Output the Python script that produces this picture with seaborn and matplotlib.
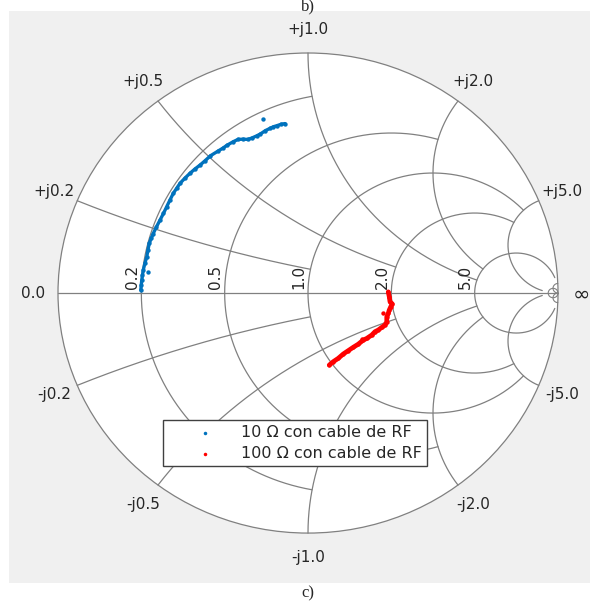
import numpy as np
import matplotlib
matplotlib.use("Agg")
import matplotlib.pyplot as plt
import seaborn as sns

blue_re = [-0.669, -0.667, -0.665, -0.662, -0.659, -0.652, -0.645, -0.640, -0.635, -0.627,
           -0.619, -0.606, -0.592, -0.578, -0.565, -0.552, -0.539, -0.525, -0.512, -0.492,
           -0.472, -0.452, -0.432, -0.412, -0.390, -0.359, -0.340, -0.325, -0.300, -0.280,
           -0.260, -0.240, -0.222, -0.205, -0.190, -0.170, -0.152, -0.138, -0.125, -0.108, -0.092]
blue_im = [0.012, 0.033, 0.054, 0.075, 0.096, 0.125, 0.151, 0.180, 0.207, 0.228,
           0.248, 0.276, 0.304, 0.332, 0.360, 0.388, 0.415, 0.437, 0.457, 0.479,
           0.499, 0.517, 0.533, 0.551, 0.572, 0.592, 0.604, 0.615, 0.630, 0.640,
           0.641, 0.640, 0.647, 0.655, 0.663, 0.677, 0.686, 0.693, 0.697, 0.703, 0.706]
blue_stray_re = [-0.641, -0.181]
blue_stray_im = [0.089, 0.725]

red_re = [0.321, 0.325, 0.328, 0.337, 0.331, 0.325, 0.321, 0.315, 0.315, 0.308, 0.295, 0.281,
          0.268, 0.255, 0.235, 0.221, 0.201, 0.181, 0.161, 0.141, 0.121, 0.101, 0.085]
red_im = [0.005, -0.015, -0.036, -0.045, -0.057, -0.071, -0.085, -0.099, -0.120, -0.133, -0.143, -0.154,
          -0.161, -0.175, -0.189, -0.196, -0.213, -0.226, -0.240, -0.254, -0.272, -0.286, -0.300]
red_stray_re = [0.299, 0.215]
red_stray_im = [-0.082, -0.190]

labels = ['10 \u03a9 con cable de RF', '100 \u03a9 con cable de RF']

# smith chart grid: value and the limit it is drawn up to
grid_vals = [0.2, 0.5, 1.0, 2.0, 5.0]
grid_lims = [1.0, 2.0, 5.0, 5.0, 30.0]
grid_text = ['0.2', '0.5', '1.0', '2.0', '5.0']

gc = '#808080'
tc = '#262626'


def gamma(z):
    return (z - 1) / (z + 1)


sns.set_style("white")
plt.rcParams['font.family'] = ['DejaVu Sans']

fig = plt.figure(figsize=(5.9, 6.01), dpi=100)
ax = fig.add_axes([9 / 590, 18 / 601, 581 / 590, 572 / 601])
ax.set_facecolor('#f0f0f0')
ax.set_xlim(-1.196, 1.128)
ax.set_ylim(-1.208, 1.175)
for s in ax.spines.values():
    s.set_visible(False)
ax.set_xticks([])
ax.set_yticks([])

ax.add_patch(plt.Circle((0, 0), 1, facecolor='white', edgecolor=gc, lw=0.9, zorder=1))
ax.plot([-1, 1], [0, 0], color=gc, lw=0.9, zorder=2)

for v, lim in zip(grid_vals, grid_lims):
    x = np.linspace(-lim, lim, 2000)
    g = gamma(v + 1j * x)
    ax.plot(g.real, g.imag, color=gc, lw=0.9, zorder=2)
    r = np.linspace(0, lim, 2000)
    for sgn in (1, -1):
        g = gamma(r + 1j * sgn * v)
        ax.plot(g.real, g.imag, color=gc, lw=0.9, zorder=2)

# tiny circle at the open-circuit point
ax.add_patch(plt.Circle((50 / 51, 0), 1 / 51, facecolor='none', edgecolor=gc, lw=0.8, zorder=2))
r = np.linspace(0, 2000, 4000)
for sgn in (1, -1):
    g = gamma(r + 1j * sgn * 50)
    ax.plot(g.real, g.imag, color=gc, lw=0.8, zorder=2)

# resistance labels
for v, t in zip(grid_vals, grid_text):
    gx = gamma(v)
    ax.annotate(t, (gx, 0), xytext=(-1, 3), textcoords='offset points', rotation=90,
                ha='right', va='bottom', fontsize=11, color=tc, zorder=3)

# reactance labels
for v, t in zip(grid_vals, grid_text):
    for sgn, pre in ((1, '+j'), (-1, '-j')):
        g = gamma(1j * sgn * v) * 1.1
        ax.text(g.real, g.imag, pre + t, ha='center', va='center', fontsize=11, color=tc)
ax.text(-1.1, 0, '0.0', ha='center', va='center', fontsize=11, color=tc)
ax.text(1.093, -0.005, '\u221e', ha='center', va='center', fontsize=15, color=tc)

blue = '#0072BD'
red = '#FF0000'
sns.lineplot(x=blue_re, y=blue_im, sort=False, estimator=None, color=blue, lw=2.4,
             legend=False, ax=ax, zorder=4)
sns.scatterplot(x=blue_re + blue_stray_re, y=blue_im + blue_stray_im, color=blue, s=10,
                linewidth=0, label=labels[0], ax=ax, zorder=5)
sns.lineplot(x=red_re, y=red_im, sort=False, estimator=None, color=red, lw=3.4,
             legend=False, ax=ax, zorder=4)
sns.scatterplot(x=red_re + red_stray_re, y=red_im + red_stray_im, color=red, s=10,
                linewidth=0, label=labels[1], ax=ax, zorder=5)

leg = ax.legend(loc='upper left', bbox_to_anchor=(163 / 590, 1 - 420 / 601),
                bbox_transform=fig.transFigure, borderaxespad=0, fontsize=11.5,
                frameon=True, fancybox=False, framealpha=1, edgecolor='#404040',
                borderpad=0.3, handlelength=4.6, handletextpad=0.0, labelspacing=0.4,
                markerscale=0.8)
leg.get_frame().set_linewidth(1.0)
for t in leg.get_texts():
    t.set_color(tc)
leg.set_zorder(10)

fig.text(308 / 590, 1 - 10 / 601, 'b)', ha='center', va='baseline', fontsize=12,
         family='Liberation Serif')
fig.text(308 / 590, 1 - 593 / 601, 'c)', ha='center', va='center', fontsize=12,
         family='Liberation Serif')

fig.savefig('out.png', dpi=100, facecolor='white')
